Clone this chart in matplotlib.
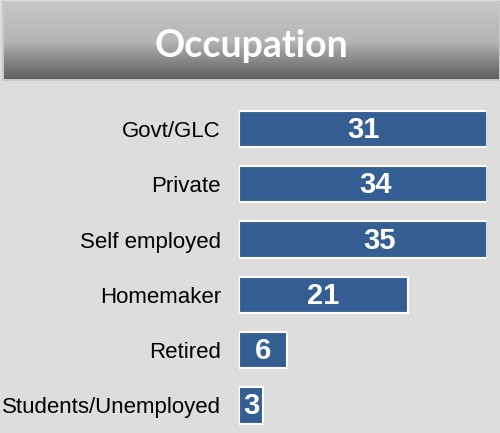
import numpy as np
import matplotlib
matplotlib.use('Agg')
import matplotlib.pyplot as plt

categories = ['Govt/GLC', 'Private', 'Self employed', 'Homemaker', 'Retired', 'Students/Unemployed']
values = [31, 34, 35, 21, 6, 3]
title = 'Occupation'

fig = plt.figure(figsize=(5, 4.33), dpi=100)
fig.patch.set_facecolor('#dddddd')

# title banner with gradient
bax = fig.add_axes([0.006, 0.815, 0.994, 0.18])
grad = np.linspace(0, 1, 100).reshape(-1, 1)
cmap = matplotlib.colors.LinearSegmentedColormap.from_list('g', ['#c6c7c9', '#b4b5b7', '#5c5c5c'])
bax.imshow(grad, aspect='auto', cmap=cmap, extent=[0, 1, 0, 1], origin='upper')
bax.set_xlim(0, 1)
bax.set_ylim(0, 1)
bax.set_xticks([])
bax.set_yticks([])
for s in bax.spines.values():
    s.set_color('#c8c8c8')
    s.set_linewidth(1.5)
bax.text(0.5, 0.44, title, color='white', fontsize=27, fontweight='bold',
         family='Lato', ha='center', va='center')

# bars
ax = fig.add_axes([0.478, 0.0, 0.494, 0.766])
ax.set_facecolor('#dddddd')
y = np.arange(len(categories))
ax.barh(y, values, height=0.66, color='#355f92', edgecolor='white', linewidth=1.5)
for yi, v in zip(y, values):
    ax.text(v / 2, yi + 0.02, str(v), color='white', fontsize=21, fontweight='bold',
            family='Liberation Sans', ha='center', va='center')
ax.set_xlim(0, 30.7)
ax.set_ylim(len(categories) - 0.5, -0.5)
ax.set_yticks(y)
ax.set_yticklabels(categories, family='Liberation Sans', fontsize=16)
ax.tick_params(axis='y', length=0, pad=13)
ax.set_xticks([])
for s in ax.spines.values():
    s.set_visible(False)

fig.savefig('out.png', dpi=100, facecolor=fig.get_facecolor())
